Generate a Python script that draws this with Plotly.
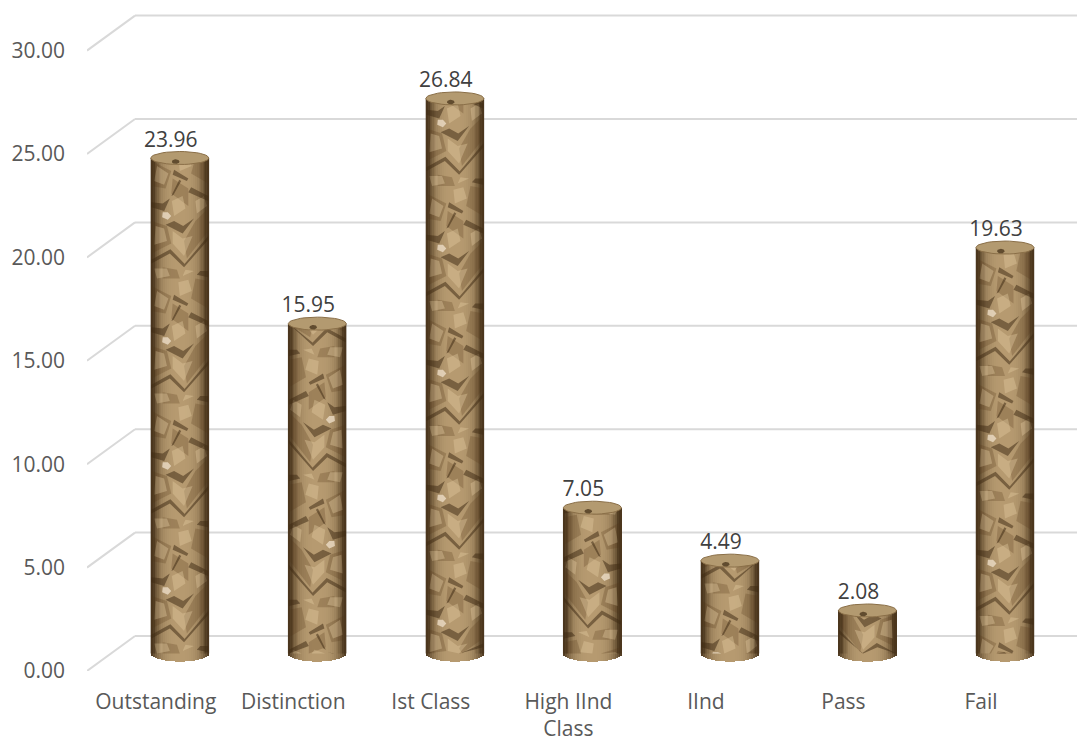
import math
import plotly.graph_objects as go

categories = ["Outstanding", "Distinction", "Ist Class", "High IInd<br>Class", "IInd", "Pass", "Fail"]
values = [23.96, 15.95, 26.84, 7.05, 4.49, 2.08, 19.63]
value_labels = ["23.96", "15.95", "26.84", "7.05", "4.49", "2.08", "19.63"]
y_ticks = [0, 5, 10, 15, 20, 25, 30]

X_UNIT = 137.5
Y_UNIT = 20.68
DEPTH_X = 48 / X_UNIT
DEPTH_Y = 35 / Y_UNIT
HALF_W = 29 / X_UNIT
CAP = 6.5 / Y_UNIT
TILE = 125 / Y_UNIT
xs = list(range(len(categories)))
base = DEPTH_Y / 2
centers = [x + DEPTH_X / 2 for x in xs]
tops = [v + base for v in values]
x_max = (1085 - 156) / X_UNIT
FONT = "Open Sans"

# crumpled-paper texture: facets in bar-relative units (u across -1..1, w up the tile 0..1)
dark_facets = [
    [(-1, .12), (-.35, .20), (.15, .09), (.2, .11), (-.33, .235), (-1, .15)],
    [(.15, .09), (1, .31), (1, .34), (.18, .12)],
    [(-.5, .43), (.1, .36), (.5, .48), (.12, .42), (-.2, .46)],
    [(-1, .57), (-.55, .54), (-.35, .64), (-.6, .60), (-1, .61)],
    [(.3, .69), (1, .62), (1, .66), (.4, .73)],
    [(-.25, .83), (.25, .78), (.3, .80), (-.2, .87)],
    [(.6, .03), (1, .01), (1, .06), (.72, .06)],
    [(-.3, .66), (-.22, .67), (.05, .78), (-.02, .79)],
]
mid_facets = [
    [(-1, .20), (-.3, .28), (-.45, .42), (-1, .46)],
    [(.25, .16), (1, .38), (1, .56), (.55, .46), (.15, .30)],
    [(-.3, .68), (.3, .58), (.3, .72), (-.25, .80)],
    [(-1, .74), (-.5, .72), (-.3, .86), (-1, .94)],
    [(.4, .84), (1, .76), (1, .98), (.55, 1.0)],
    [(-.6, .0), (.0, .0), (-.1, .07), (-.6, .09)],
]
light_facets = [
    [(-.8, .0), (-.35, .02), (-.45, .08), (-.9, .08)],
    [(-.25, .28), (.15, .18), (.45, .34), (.1, .32), (-.25, .38)],
    [(-.9, .27), (-.45, .30), (-.55, .40), (-.85, .42)],
    [(.6, .52), (.95, .58), (.85, .66), (.55, .62)],
    [(-.2, .50), (.2, .56), (.1, .66), (-.28, .62)],
    [(-.9, .78), (-.55, .75), (-.4, .84), (-.8, .90)],
    [(.0, .86), (.42, .90), (.3, .99), (-.05, .97)],
    [(.1, .02), (.5, .06), (.2, .07)],
]
bright_facets = [
    [(-.62, .49), (-.42, .47), (-.3, .50), (-.42, .53), (-.6, .53)],
]


def ellipse(cx, cy, a, b, n=40):
    px, py = [], []
    for k in range(n + 1):
        t = 2 * math.pi * k / n
        px.append(cx + a * math.cos(t))
        py.append(cy + b * math.sin(t))
    return px, py


def mix(c1, c2, f):
    return "rgb(" + ",".join(str(round(a + (b - a) * f)) for a, b in zip(c1, c2)) + ")"


fig = go.Figure()

# body: narrow strips shade the cylinder and curve its lower rim
LIGHT = (182, 154, 112)
DARK = (72, 52, 28)
n_strips = 29
strip_w = 2 * HALF_W / n_strips
for k in range(n_strips):
    u = -1 + (k + 0.5) * 2 / n_strips
    rim = CAP * 1.25 * math.sqrt(1 - u * u)
    f = abs(u) ** 3.2
    fig.add_trace(go.Bar(x=centers, y=[t - (base - rim) for t in tops], base=base - rim,
                         width=strip_w * 1.08, offset=-HALF_W + k * strip_w,
                         marker=dict(color=mix(LIGHT, DARK, f), line_width=0),
                         hoverinfo="skip", showlegend=False))


# facets, clipped to each bar's height
def facet_trace(facets, colour):
    fx, fy = [], []
    for i, (c, t) in enumerate(zip(centers, tops)):
        flip = -1 if i % 2 else 1
        phase = (i * 0.37 % 1) * TILE
        rep = -1
        while base + rep * TILE + phase < t:
            y0 = base + rep * TILE + phase
            for poly in facets:
                ys = [y0 + w * TILE for _, w in poly]
                if min(ys) >= t or max(ys) <= base:
                    continue
                for (u, _), y in zip(poly, ys):
                    fx.append(c + flip * u * HALF_W * 0.98)
                    fy.append(min(max(y, base), t))
                fx.append(None)
                fy.append(None)
            rep += 1
    fig.add_trace(go.Scatter(x=fx, y=fy, mode="lines", fill="toself", fillcolor=colour,
                             line=dict(width=0), hoverinfo="skip", showlegend=False))


facet_trace(mid_facets, "rgba(92,66,34,0.28)")
facet_trace(light_facets, "rgba(228,206,164,0.38)")
facet_trace(dark_facets, "rgba(58,38,16,0.50)")
facet_trace(bright_facets, "rgba(240,226,204,0.75)")

# darker sides over the facets
for side, width, colour in [(0.93, 5, "rgba(64,44,22,0.45)"), (0.80, 6, "rgba(64,44,22,0.15)")]:
    sx, sy = [], []
    for c, t in zip(centers, tops):
        for s in (-1, 1):
            sx += [c + s * side * HALF_W, c + s * side * HALF_W, None]
            sy += [base, t, None]
    fig.add_trace(go.Scatter(x=sx, y=sy, mode="lines", line=dict(color=colour, width=width),
                             hoverinfo="skip", showlegend=False))

# top cap
for c, t in zip(centers, tops):
    px, py = ellipse(c, t, HALF_W, CAP)
    fig.add_trace(go.Scatter(x=px, y=py, mode="lines", fill="toself", fillcolor="#B39A70",
                             line=dict(color="#8A6F48", width=1), hoverinfo="skip", showlegend=False))
    px, py = ellipse(c - 0.03, t - CAP * 0.55, HALF_W * 0.13, CAP * 0.35)
    fig.add_trace(go.Scatter(x=px, y=py, mode="lines", fill="toself", fillcolor="rgba(70,50,26,0.75)",
                             line=dict(width=0), hoverinfo="skip", showlegend=False))

# value labels
fig.add_trace(go.Scatter(x=[x + DEPTH_X / 2 - 9 / X_UNIT for x in xs],
                         y=[t + 6 / Y_UNIT for t in tops], mode="text", text=value_labels,
                         textposition="top center", textfont=dict(family=FONT, size=21, color="#404040"),
                         cliponaxis=False, hoverinfo="skip", showlegend=False))

# wall and floor lines, beneath the bars
shapes = []
for t in y_ticks:
    line = dict(color="#D9D9D9", width=2)
    shapes.append(dict(type="line", layer="below", xref="x", yref="y", x0=-0.5, y0=t,
                       x1=-0.5 + DEPTH_X, y1=t + DEPTH_Y, line=line))
    shapes.append(dict(type="line", layer="below", xref="x", yref="y", x0=-0.5 + DEPTH_X, y0=t + DEPTH_Y,
                       x1=x_max, y1=t + DEPTH_Y, line=line))

# the page has an 8 px body margin, so the figure is 8 px smaller and shifted
fig.update_layout(
    width=1077, height=736, autosize=False, barmode="overlay", bargap=0,
    paper_bgcolor="white", plot_bgcolor="white", showlegend=False, shapes=shapes,
    margin=dict(l=79, r=0, t=0, b=73),
    font=dict(family=FONT, size=21, color="#595959"),
    xaxis=dict(range=[-0.5, x_max], tickmode="array", tickvals=xs, ticktext=categories,
               showgrid=False, zeroline=False, showline=False, ticks="", ticklabelstandoff=16,
               tickangle=0, tickfont=dict(family=FONT, size=21, color="#595959")),
    yaxis=dict(range=[0, (671 - 8) / Y_UNIT], tickmode="array", tickvals=y_ticks,
               ticktext=[f"{t:.2f}" for t in y_ticks], showgrid=False, zeroline=False,
               showline=False, ticks="", ticklabelstandoff=21,
               tickfont=dict(family=FONT, size=21, color="#595959")),
)

fig.write_html("out.html")
